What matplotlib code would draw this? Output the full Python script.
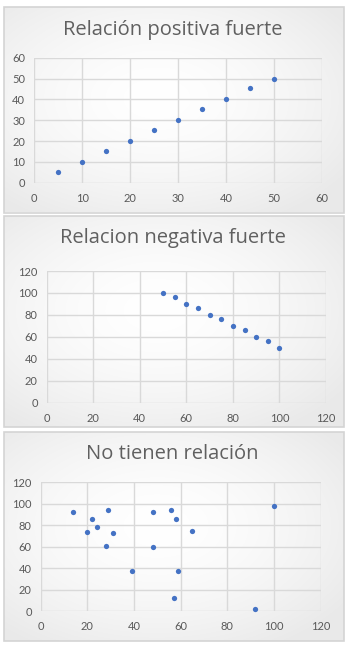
import numpy as np
import matplotlib
matplotlib.use("Agg")
import matplotlib.pyplot as plt
from matplotlib.patches import Rectangle

# --- data -------------------------------------------------------------
pos_x = [5, 10, 15, 20, 25, 30, 35, 40, 45, 50]
pos_y = [5, 10, 15, 20, 25.5, 30, 35.5, 40, 45.5, 50]

neg_x = [50, 55, 60, 65, 70, 75, 80, 85, 90, 95, 100]
neg_y = [100, 96, 90, 86, 80, 76, 70, 66, 60, 56, 50]

none_x = [14, 20, 22, 24, 29, 28, 31, 39, 48, 48, 56, 58, 65, 59, 57, 92, 100]
none_y = [92, 74, 86, 78, 94, 61, 73, 37, 92, 60, 94, 86, 75, 37, 12, 2, 98]

titles = ["Relación positiva fuerte", "Relacion negativa fuerte", "No tienen relación"]
x_ticks = [list(range(0, 61, 10)), list(range(0, 121, 20)), list(range(0, 121, 20))]
y_ticks = [list(range(0, 61, 10)), list(range(0, 121, 20)), list(range(0, 121, 20))]

# --- layout (pixels, origin top-left) ---------------------------------
W, H = 350, 646
DOT = "#4472C4"
TXT = "#595959"
GRID = "#d9d9d9"

panels = [
    dict(frame=(4, 7, 344, 212.5), plot=(34.3, 57.7, 321.7, 182.7), title_y=29.5),
    dict(frame=(4, 216, 343.5, 427), plot=(46.7, 271, 326, 402.7), title_y=238.5),
    dict(frame=(3.5, 432, 343.5, 641), plot=(40.7, 482.3, 320.7, 611), title_y=454),
]
series = [(pos_x, pos_y), (neg_x, neg_y), (none_x, none_y)]

plt.rcParams["font.family"] = ["Lato", "DejaVu Sans"]

fig = plt.figure(figsize=(W / 100, H / 100), dpi=100)
fig.patch.set_facecolor("white")


def frac_rect(x0, y0, x1, y1):
    return [x0 / W, 1 - y1 / H, (x1 - x0) / W, (y1 - y0) / H]


# soft radial shading used as chart-area fill
gy, gx = np.mgrid[0:1:200j, 0:1:300j]
r = np.sqrt(((gx - 0.45) / 0.9) ** 2 + ((gy - 0.45) / 0.9) ** 2)
shade = 1 - 0.085 * np.clip(r / 0.75, 0, 1) ** 1.6
grad = np.dstack([shade, shade, shade])

for p, (xs, ys), title, xt, yt in zip(panels, series, titles, x_ticks, y_ticks):
    fx0, fy0, fx1, fy1 = p["frame"]
    bg = fig.add_axes(frac_rect(*p["frame"]))
    bg.imshow(grad, extent=(0, 1, 0, 1), aspect="auto", interpolation="bilinear")
    bg.add_patch(Rectangle((0, 0), 1, 1, transform=bg.transAxes, fill=False,
                           edgecolor="#d4d4d4", lw=1.2, clip_on=False))
    bg.set_axis_off()

    ax = fig.add_axes(frac_rect(*p["plot"]))
    ax.set_facecolor("none")
    ax.set_xlim(xt[0], xt[-1])
    ax.set_ylim(yt[0], yt[-1])
    ax.set_xticks(xt)
    ax.set_yticks(yt)
    ax.grid(True, color=GRID, lw=1.0)
    ax.set_axisbelow(True)
    for s in ax.spines.values():
        s.set_visible(False)
    ax.tick_params(length=0, colors=TXT, labelsize=8)
    ax.tick_params(axis="x", pad=7.5)
    ax.tick_params(axis="y", pad=6.5)
    ax.plot(xs, ys, "o", color=DOT, ms=3.8, mec=DOT, mew=0, clip_on=False, zorder=3)

    fig.text(172.5 / W, 1 - p["title_y"] / H, title, ha="center", va="center",
             fontsize=14.5, color="#606060", family=["Open Sans", "DejaVu Sans"])

fig.savefig("out.png", dpi=100, facecolor="white")
